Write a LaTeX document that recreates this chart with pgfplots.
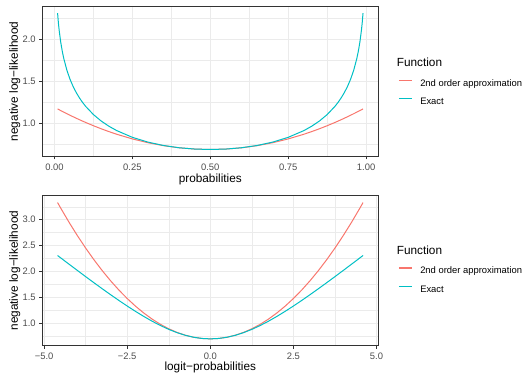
\documentclass[border=0pt]{standalone}
\usepackage{pgfplots}
\pgfplotsset{compat=1.18}
\usepackage{pgfplotstable}
\usepackage{fontspec}
\setmainfont{Liberation Sans}
\definecolor{gpred}{HTML}{F8766D}
\definecolor{gpcyan}{HTML}{00BFC4}
\definecolor{grid92}{HTML}{EBEBEB}
\definecolor{grey20}{HTML}{333333}
\definecolor{grey30}{HTML}{4D4D4D}

\pgfplotstableread{
p approx exact
0.01 1.17335 2.30761
0.0125 1.16846 2.19730
0.015 1.16360 2.10741
0.02 1.15395 1.96611
0.025 1.14440 1.85710
0.03 1.13495 1.76851
0.04 1.11635 1.62985
0.05 1.09815 1.52351
0.06 1.08035 1.43764
0.07 1.06295 1.36592
0.08 1.04595 1.30456
0.09 1.02935 1.25113
0.10 1.01315 1.20397
0.125 0.97440 1.10649
0.15 0.93815 1.02982
0.175 0.90440 0.96767
0.20 0.87315 0.91629
0.25 0.81815 0.83699
0.30 0.77315 0.78032
0.35 0.73815 0.74030
0.40 0.71315 0.71356
0.45 0.69815 0.69817
0.50 0.69315 0.69315
0.55 0.69815 0.69817
0.60 0.71315 0.71356
0.65 0.73815 0.74030
0.70 0.77315 0.78032
0.75 0.81815 0.83699
0.80 0.87315 0.91629
0.825 0.90440 0.96767
0.85 0.93815 1.02982
0.875 0.97440 1.10649
0.90 1.01315 1.20397
0.91 1.02935 1.25113
0.92 1.04595 1.30456
0.93 1.06295 1.36592
0.94 1.08035 1.43764
0.95 1.09815 1.52351
0.96 1.11635 1.62985
0.97 1.13495 1.76851
0.975 1.14440 1.85710
0.98 1.15395 1.96611
0.985 1.16360 2.10741
0.9875 1.16846 2.19730
0.99 1.17335 2.30761
}\probtable

\pgfplotstableread{
x approx exact
-4.59512 3.33254 2.30761
-4.5 3.22440 2.26105
-4.25 2.95096 2.13916
-4 2.69315 2.01815
-3.75 2.45096 1.89825
-3.5 2.22440 1.77975
-3.25 2.01346 1.66304
-3 1.81815 1.54859
-2.75 1.63846 1.43697
-2.5 1.47440 1.32889
-2.25 1.32596 1.22521
-2 1.19315 1.12693
-1.75 1.07596 1.03523
-1.5 0.97440 0.95141
-1.25 0.88846 0.87693
-1 0.81815 0.81326
-0.75 0.76346 0.76187
-0.5 0.72440 0.72408
-0.25 0.70096 0.70094
0 0.69315 0.69315
0.25 0.70096 0.70094
0.5 0.72440 0.72408
0.75 0.76346 0.76187
1 0.81815 0.81326
1.25 0.88846 0.87693
1.5 0.97440 0.95141
1.75 1.07596 1.03523
2 1.19315 1.12693
2.25 1.32596 1.22521
2.5 1.47440 1.32889
2.75 1.63846 1.43697
3 1.81815 1.54859
3.25 2.01346 1.66304
3.5 2.22440 1.77975
3.75 2.45096 1.89825
4 2.69315 2.01815
4.25 2.95096 2.13916
4.5 3.22440 2.26105
4.59512 3.33254 2.30761
}\logittable

\pgfplotsset{ggstyle/.style={
  scale only axis, width=336pt, height=150pt,
  axis line style={grey20, line width=0.8pt},
  grid=both,
  major grid style={grid92, line width=0.9pt},
  minor grid style={grid92, line width=0.45pt},
  tick align=outside, tick pos=left,
  major tick length=3pt, minor tick length=0pt,
  tick style={grey20, line width=0.8pt},
  ticklabel style={font=\fontsize{9.4}{10}\selectfont, text=grey30, inner sep=1.5pt},
  xticklabel style={yshift=-3pt},
  yticklabel style={xshift=-2pt},
  label style={font=\fontsize{11.8}{13}\selectfont},
  xlabel style={at={(axis description cs:0.5,-0.157)}, anchor=center},
  ylabel style={at={(axis description cs:-0.082,0.5)}, anchor=center, rotate=0},
  clip mode=individual,
  legend style={draw=none, fill=none, at={(1.0585,0.422)}, anchor=west,
    font=\fontsize{9.4}{10}\selectfont, row sep=9.4pt, column sep=7.5pt, inner sep=0pt,
    nodes={inner sep=0pt, text height=7pt, text depth=2pt}},
  legend cell align=left,
  legend image code/.code={\draw[##1, line width=1.2pt] (0pt,3.3pt) -- (13.4pt,3.3pt);},
}}

\begin{document}
\begin{tikzpicture}
\path[use as bounding box] (0,0) rectangle (523pt,374pt);
\begin{axis}[ggstyle, at={(42.3pt,217.7pt)}, anchor=south west,
  xmin=-0.039, xmax=1.039, ymin=0.6125, ymax=2.388,
  xtick={0,0.25,0.5,0.75,1}, xticklabels={0.00,0.25,0.50,0.75,1.00},
  minor xtick={0.125,0.375,0.625,0.875},
  ytick={1,1.5,2}, yticklabels={1.0,1.5,2.0},
  minor ytick={0.75,1.25,1.75,2.25},
  xlabel={probabilities}, ylabel={negative log−likelihood}]
\addplot[gpred, line width=1.0pt] table[x=p, y=approx] {\probtable};
\addlegendentry{2nd order approximation}
\addplot[gpcyan, line width=1.0pt] table[x=p, y=exact] {\probtable};
\addlegendentry{Exact}
\node[anchor=west, inner sep=0pt, font=\fontsize{11.8}{13}\selectfont] at (axis description cs:1.0545,0.625) {Function};
\end{axis}
\begin{axis}[ggstyle, at={(42.3pt,28.3pt)}, anchor=south west,
  xmin=-5.054, xmax=5.054, ymin=0.561, ymax=3.465,
  xtick={-5,-2.5,0,2.5,5}, xticklabels={−5.0,−2.5,0.0,2.5,5.0},
  minor xtick={-3.75,-1.25,1.25,3.75},
  ytick={1,1.5,2,2.5,3}, yticklabels={1.0,1.5,2.0,2.5,3.0},
  minor ytick={0.75,1.25,1.75,2.25,2.75,3.25},
  xlabel={logit−probabilities}, ylabel={negative log−likelihood},
  xlabel style={at={(axis description cs:0.5,-0.143)}},
  legend style={at={(1.0585,0.435)}}]
\addplot[gpred, line width=1.0pt] table[x=x, y=approx] {\logittable};
\addlegendentry{2nd order approximation}
\addplot[gpcyan, line width=1.0pt] table[x=x, y=exact] {\logittable};
\addlegendentry{Exact}
\node[anchor=west, inner sep=0pt, font=\fontsize{11.8}{13}\selectfont] at (axis description cs:1.0545,0.635) {Function};
\end{axis}
\end{tikzpicture}
\end{document}
